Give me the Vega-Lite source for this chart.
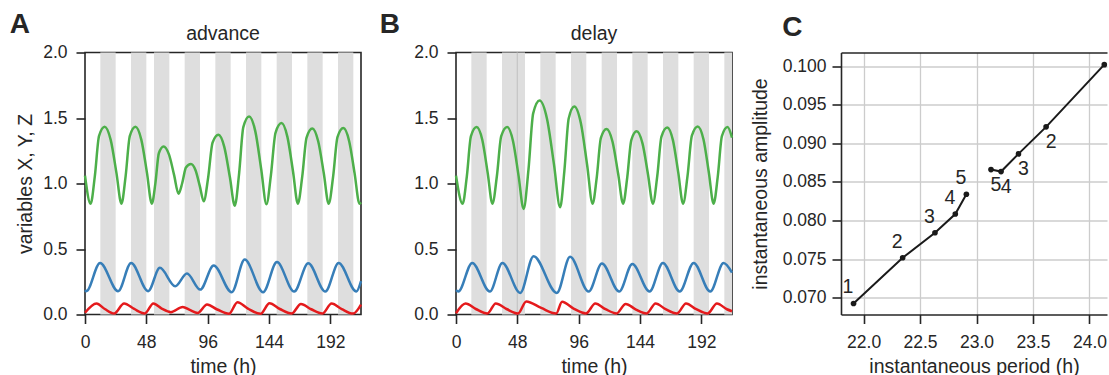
{
"$schema": "https://vega.github.io/schema/vega-lite/v6.json",
"padding": {"left": 9, "top": 10.5, "right": 0, "bottom": 0},
"config": {
 "font": "Liberation Sans",
 "view": {"stroke": "#262626", "strokeWidth": 1.6},
 "axis": {"domain": false, "grid": false, "tickColor": "#262626", "tickWidth": 1.6, "tickSize": 9, "labelFont": "Liberation Sans", "labelFontSize": 17.5, "labelColor": "#262626", "labelPadding": 6, "titleFont": "Liberation Sans", "titleFontSize": 19.5, "titleFontWeight": "normal", "titleColor": "#262626", "labelFlush": false},
 "title": {"font": "Liberation Sans", "fontSize": 19.5, "fontWeight": "normal", "color": "#262626"}
},
"datasets": {
 "bands": [
  {"panel":"advance","t":12,"t2":24},{"panel":"advance","t":36,"t2":48},{"panel":"advance","t":54,"t2":66},{"panel":"advance","t":78,"t2":90},{"panel":"advance","t":102,"t2":114},{"panel":"advance","t":126,"t2":138},{"panel":"advance","t":150,"t2":162},{"panel":"advance","t":174,"t2":186},{"panel":"advance","t":198,"t2":210},
  {"panel":"delay","t":12,"t2":24},{"panel":"delay","t":36,"t2":48},{"panel":"delay","t":48,"t2":54},{"panel":"delay","t":66,"t2":78},{"panel":"delay","t":90,"t2":102},{"panel":"delay","t":114,"t2":126},{"panel":"delay","t":138,"t2":150},{"panel":"delay","t":162,"t2":174},{"panel":"delay","t":186,"t2":198},{"panel":"delay","t":210,"t2":216}
 ],
 "seams": [{"panel":"delay","t":48}],
 "series": [
  {"panel":"advance","k":"X","t":0,"v":1.06},{"panel":"advance","k":"X","t":4.4,"v":0.846},{"panel":"advance","k":"X","t":7.7,"v":1.057},{"panel":"advance","k":"X","t":11,"v":1.363},{"panel":"advance","k":"X","t":15.4,"v":1.433},{"panel":"advance","k":"X","t":20.1,"v":1.333},{"panel":"advance","k":"X","t":24.6,"v":1.081},{"panel":"advance","k":"X","t":28.5,"v":0.846},{"panel":"advance","k":"X","t":31.8,"v":1.057},{"panel":"advance","k":"X","t":35.1,"v":1.363},{"panel":"advance","k":"X","t":39.5,"v":1.433},{"panel":"advance","k":"X","t":44.1,"v":1.333},{"panel":"advance","k":"X","t":48.5,"v":1.081},{"panel":"advance","k":"X","t":52.3,"v":0.846},{"panel":"advance","k":"X","t":55.1,"v":1.003},{"panel":"advance","k":"X","t":57.8,"v":1.231},{"panel":"advance","k":"X","t":61.5,"v":1.283},{"panel":"advance","k":"X","t":65.7,"v":1.222},{"panel":"advance","k":"X","t":69.7,"v":1.066},{"panel":"advance","k":"X","t":73.2,"v":0.922},{"panel":"advance","k":"X","t":76.1,"v":1.004},{"panel":"advance","k":"X","t":79,"v":1.122},{"panel":"advance","k":"X","t":82.9,"v":1.149},{"panel":"advance","k":"X","t":86.5,"v":1.101},{"panel":"advance","k":"X","t":89.9,"v":0.978},{"panel":"advance","k":"X","t":92.9,"v":0.864},{"panel":"advance","k":"X","t":96.4,"v":1.047},{"panel":"advance","k":"X","t":99.8,"v":1.311},{"panel":"advance","k":"X","t":104.4,"v":1.372},{"panel":"advance","k":"X","t":109,"v":1.28},{"panel":"advance","k":"X","t":113.4,"v":1.047},{"panel":"advance","k":"X","t":117.2,"v":0.831},{"panel":"advance","k":"X","t":120.6,"v":1.076},{"panel":"advance","k":"X","t":123.9,"v":1.43},{"panel":"advance","k":"X","t":128.4,"v":1.512},{"panel":"advance","k":"X","t":133.3,"v":1.398},{"panel":"advance","k":"X","t":137.9,"v":1.109},{"panel":"advance","k":"X","t":142,"v":0.841},{"panel":"advance","k":"X","t":145.5,"v":1.064},{"panel":"advance","k":"X","t":149.1,"v":1.387},{"panel":"advance","k":"X","t":153.8,"v":1.461},{"panel":"advance","k":"X","t":158.4,"v":1.356},{"panel":"advance","k":"X","t":162.8,"v":1.092},{"panel":"advance","k":"X","t":166.6,"v":0.846},{"panel":"advance","k":"X","t":170,"v":1.053},{"panel":"advance","k":"X","t":173.4,"v":1.351},{"panel":"advance","k":"X","t":177.9,"v":1.42},{"panel":"advance","k":"X","t":182.5,"v":1.322},{"panel":"advance","k":"X","t":186.9,"v":1.076},{"panel":"advance","k":"X","t":190.7,"v":0.846},{"panel":"advance","k":"X","t":194.2,"v":1.054},{"panel":"advance","k":"X","t":197.6,"v":1.354},{"panel":"advance","k":"X","t":202.2,"v":1.423},{"panel":"advance","k":"X","t":206.7,"v":1.325},{"panel":"advance","k":"X","t":211,"v":1.077},{"panel":"advance","k":"X","t":214.8,"v":0.846},{"panel":"advance","k":"X","t":216,"v":0.856},
  {"panel":"advance","k":"Y","t":0,"v":0.186},{"panel":"advance","k":"Y","t":1,"v":0.178},{"panel":"advance","k":"Y","t":11.8,"v":0.394},{"panel":"advance","k":"Y","t":25.9,"v":0.178},{"panel":"advance","k":"Y","t":36.1,"v":0.394},{"panel":"advance","k":"Y","t":49.4,"v":0.178},{"panel":"advance","k":"Y","t":58.6,"v":0.356},{"panel":"advance","k":"Y","t":70.6,"v":0.216},{"panel":"advance","k":"Y","t":79.8,"v":0.313},{"panel":"advance","k":"Y","t":90.2,"v":0.19},{"panel":"advance","k":"Y","t":100.7,"v":0.374},{"panel":"advance","k":"Y","t":114.8,"v":0.17},{"panel":"advance","k":"Y","t":125,"v":0.419},{"panel":"advance","k":"Y","t":139.4,"v":0.17},{"panel":"advance","k":"Y","t":150.2,"v":0.4},{"panel":"advance","k":"Y","t":163.7,"v":0.175},{"panel":"advance","k":"Y","t":174.7,"v":0.391},{"panel":"advance","k":"Y","t":188.1,"v":0.175},{"panel":"advance","k":"Y","t":198.5,"v":0.394},{"panel":"advance","k":"Y","t":212.4,"v":0.175},{"panel":"advance","k":"Y","t":216,"v":0.254},
  {"panel":"advance","k":"Z","t":0,"v":0.013},{"panel":"advance","k":"Z","t":9,"v":0.084},{"panel":"advance","k":"Z","t":15.5,"v":0.042},{"panel":"advance","k":"Z","t":22.8,"v":0.008},{"panel":"advance","k":"Z","t":30.6,"v":0.084},{"panel":"advance","k":"Z","t":38.5,"v":0.042},{"panel":"advance","k":"Z","t":46.8,"v":0.008},{"panel":"advance","k":"Z","t":53.5,"v":0.084},{"panel":"advance","k":"Z","t":60,"v":0.045},{"panel":"advance","k":"Z","t":67.2,"v":0.018},{"panel":"advance","k":"Z","t":76.5,"v":0.058},{"panel":"advance","k":"Z","t":82,"v":0.035},{"panel":"advance","k":"Z","t":88.2,"v":0.012},{"panel":"advance","k":"Z","t":95.5,"v":0.076},{"panel":"advance","k":"Z","t":103.5,"v":0.038},{"panel":"advance","k":"Z","t":112.7,"v":0.005},{"panel":"advance","k":"Z","t":119.3,"v":0.094},{"panel":"advance","k":"Z","t":127.5,"v":0.045},{"panel":"advance","k":"Z","t":137.3,"v":0.005},{"panel":"advance","k":"Z","t":144.4,"v":0.086},{"panel":"advance","k":"Z","t":152.5,"v":0.042},{"panel":"advance","k":"Z","t":161.7,"v":0.007},{"panel":"advance","k":"Z","t":169,"v":0.081},{"panel":"advance","k":"Z","t":177,"v":0.04},{"panel":"advance","k":"Z","t":185.7,"v":0.007},{"panel":"advance","k":"Z","t":193,"v":0.084},{"panel":"advance","k":"Z","t":201,"v":0.041},{"panel":"advance","k":"Z","t":209.8,"v":0.007},{"panel":"advance","k":"Z","t":216,"v":0.076},
  {"panel":"delay","k":"X","t":0,"v":1.06},{"panel":"delay","k":"X","t":5.2,"v":0.846},{"panel":"delay","k":"X","t":8.5,"v":1.057},{"panel":"delay","k":"X","t":11.7,"v":1.361},{"panel":"delay","k":"X","t":16.1,"v":1.431},{"panel":"delay","k":"X","t":20.6,"v":1.332},{"panel":"delay","k":"X","t":24.8,"v":1.08},{"panel":"delay","k":"X","t":28.5,"v":0.846},{"panel":"delay","k":"X","t":32,"v":1.057},{"panel":"delay","k":"X","t":35.4,"v":1.361},{"panel":"delay","k":"X","t":40,"v":1.431},{"panel":"delay","k":"X","t":44.6,"v":1.325},{"panel":"delay","k":"X","t":49,"v":1.056},{"panel":"delay","k":"X","t":52.9,"v":0.806},{"panel":"delay","k":"X","t":56.7,"v":1.104},{"panel":"delay","k":"X","t":60.4,"v":1.535},{"panel":"delay","k":"X","t":65.4,"v":1.634},{"panel":"delay","k":"X","t":71.2,"v":1.495},{"panel":"delay","k":"X","t":76.7,"v":1.144},{"panel":"delay","k":"X","t":81.5,"v":0.818},{"panel":"delay","k":"X","t":84.8,"v":1.095},{"panel":"delay","k":"X","t":88.2,"v":1.496},{"panel":"delay","k":"X","t":92.6,"v":1.588},{"panel":"delay","k":"X","t":97.7,"v":1.462},{"panel":"delay","k":"X","t":102.6,"v":1.143},{"panel":"delay","k":"X","t":106.9,"v":0.846},{"panel":"delay","k":"X","t":110.2,"v":1.051},{"panel":"delay","k":"X","t":113.4,"v":1.348},{"panel":"delay","k":"X","t":117.8,"v":1.416},{"panel":"delay","k":"X","t":122.5,"v":1.319},{"panel":"delay","k":"X","t":126.9,"v":1.074},{"panel":"delay","k":"X","t":130.8,"v":0.846},{"panel":"delay","k":"X","t":134,"v":1.045},{"panel":"delay","k":"X","t":137.2,"v":1.332},{"panel":"delay","k":"X","t":141.4,"v":1.398},{"panel":"delay","k":"X","t":146,"v":1.304},{"panel":"delay","k":"X","t":150.3,"v":1.067},{"panel":"delay","k":"X","t":154.1,"v":0.846},{"panel":"delay","k":"X","t":157.5,"v":1.056},{"panel":"delay","k":"X","t":160.8,"v":1.358},{"panel":"delay","k":"X","t":165.3,"v":1.428},{"panel":"delay","k":"X","t":169.8,"v":1.329},{"panel":"delay","k":"X","t":174,"v":1.079},{"panel":"delay","k":"X","t":177.7,"v":0.846},{"panel":"delay","k":"X","t":181.2,"v":1.058},{"panel":"delay","k":"X","t":184.6,"v":1.365},{"panel":"delay","k":"X","t":189.2,"v":1.436},{"panel":"delay","k":"X","t":193.7,"v":1.336},{"panel":"delay","k":"X","t":197.9,"v":1.082},{"panel":"delay","k":"X","t":201.6,"v":0.846},{"panel":"delay","k":"X","t":204.9,"v":1.057},{"panel":"delay","k":"X","t":208.1,"v":1.361},{"panel":"delay","k":"X","t":212.5,"v":1.431},{"panel":"delay","k":"X","t":216,"v":1.35},
  {"panel":"delay","k":"Y","t":0,"v":0.186},{"panel":"delay","k":"Y","t":1.8,"v":0.175},{"panel":"delay","k":"Y","t":12.7,"v":0.394},{"panel":"delay","k":"Y","t":26.5,"v":0.175},{"panel":"delay","k":"Y","t":36.3,"v":0.394},{"panel":"delay","k":"Y","t":50.3,"v":0.165},{"panel":"delay","k":"Y","t":60.7,"v":0.445},{"panel":"delay","k":"Y","t":78.9,"v":0.165},{"panel":"delay","k":"Y","t":89.3,"v":0.44},{"panel":"delay","k":"Y","t":103.8,"v":0.175},{"panel":"delay","k":"Y","t":114.2,"v":0.389},{"panel":"delay","k":"Y","t":127.7,"v":0.175},{"panel":"delay","k":"Y","t":138,"v":0.386},{"panel":"delay","k":"Y","t":151.5,"v":0.175},{"panel":"delay","k":"Y","t":161.9,"v":0.394},{"panel":"delay","k":"Y","t":175.1,"v":0.175},{"panel":"delay","k":"Y","t":186,"v":0.394},{"panel":"delay","k":"Y","t":199,"v":0.175},{"panel":"delay","k":"Y","t":209.4,"v":0.394},{"panel":"delay","k":"Y","t":216,"v":0.32},
  {"panel":"delay","k":"Z","t":0,"v":0.01},{"panel":"delay","k":"Z","t":7.5,"v":0.084},{"panel":"delay","k":"Z","t":15.5,"v":0.042},{"panel":"delay","k":"Z","t":24.6,"v":0.008},{"panel":"delay","k":"Z","t":31.1,"v":0.084},{"panel":"delay","k":"Z","t":39.5,"v":0.042},{"panel":"delay","k":"Z","t":48.5,"v":0.008},{"panel":"delay","k":"Z","t":55,"v":0.1},{"panel":"delay","k":"Z","t":66.7,"v":0.05},{"panel":"delay","k":"Z","t":78.4,"v":0.008},{"panel":"delay","k":"Z","t":83,"v":0.097},{"panel":"delay","k":"Z","t":92,"v":0.045},{"panel":"delay","k":"Z","t":101.7,"v":0.008},{"panel":"delay","k":"Z","t":109,"v":0.084},{"panel":"delay","k":"Z","t":117,"v":0.041},{"panel":"delay","k":"Z","t":125.6,"v":0.008},{"panel":"delay","k":"Z","t":132.8,"v":0.081},{"panel":"delay","k":"Z","t":140.5,"v":0.04},{"panel":"delay","k":"Z","t":149.2,"v":0.008},{"panel":"delay","k":"Z","t":156.2,"v":0.084},{"panel":"delay","k":"Z","t":164,"v":0.041},{"panel":"delay","k":"Z","t":173,"v":0.008},{"panel":"delay","k":"Z","t":180,"v":0.084},{"panel":"delay","k":"Z","t":188,"v":0.041},{"panel":"delay","k":"Z","t":196.9,"v":0.008},{"panel":"delay","k":"Z","t":204.2,"v":0.084},{"panel":"delay","k":"Z","t":212,"v":0.04},{"panel":"delay","k":"Z","t":216,"v":0.025}
 ],
 "pc": [
  {"s":"advance","idx":1,"p":21.911,"a":0.06923,"label":"1"},
  {"s":"advance","idx":2,"p":22.346,"a":0.07516,"label":"2"},
  {"s":"advance","idx":3,"p":22.632,"a":0.07841,"label":"3"},
  {"s":"advance","idx":4,"p":22.812,"a":0.08084,"label":"4"},
  {"s":"advance","idx":5,"p":22.91,"a":0.0834,"label":"5"},
  {"s":"delay","idx":1,"p":24.131,"a":0.10022,"label":null},
  {"s":"delay","idx":2,"p":23.616,"a":0.09215,"label":"2"},
  {"s":"delay","idx":3,"p":23.371,"a":0.08864,"label":"3"},
  {"s":"delay","idx":4,"p":23.217,"a":0.08635,"label":"4"},
  {"s":"delay","idx":5,"p":23.128,"a":0.08661,"label":"5"}
 ]
},
"spacing": 12,
"hconcat": [
 {
  "title": {"text": "A", "anchor": "start", "frame": "bounds", "fontSize": 28, "fontWeight": "bold", "dx": -5, "offset": -38, "baseline": "alphabetic"},
  "vconcat": [{
   "width": 276, "height": 262,
   "title": {"text": "advance", "offset": -16, "baseline": "alphabetic"},
   "encoding": {"x": {"field": "t", "type": "quantitative", "scale": {"domain": [0, 216], "nice": false, "zero": false}, "axis": {"values": [0, 48, 96, 144, 192], "labelPadding": 9.5, "titlePadding": 7}, "title": "time (h)"}},
   "layer": [
    {"data": {"name": "bands"}, "transform": [{"filter": "datum.panel === 'advance'"}], "mark": {"type": "rect", "color": "#dedede"}, "encoding": {"x2": {"field": "t2"}}},
    {"data": {"name": "series"}, "transform": [{"filter": "datum.panel === 'advance'"}], "mark": {"type": "line", "interpolate": "monotone", "strokeWidth": 2.5},
     "encoding": {"y": {"field": "v", "type": "quantitative", "scale": {"domain": [0, 2], "nice": false}, "axis": {"values": [0, 0.5, 1, 1.5, 2], "format": ".1f", "labelPadding": 9, "titlePadding": 7}, "title": "variables X, Y, Z"},
      "color": {"field": "k", "type": "nominal", "scale": {"domain": ["X", "Y", "Z"], "range": ["#4daf4a", "#377eb8", "#e41a1c"]}, "legend": null}}}
   ]
  }]
 },
 {
  "title": {"text": "B", "anchor": "start", "frame": "bounds", "fontSize": 28, "fontWeight": "bold", "dx": -33, "offset": -38, "baseline": "alphabetic"},
  "vconcat": [{
   "width": 276, "height": 262,
   "title": {"text": "delay", "offset": -16, "baseline": "alphabetic"},
   "encoding": {"x": {"field": "t", "type": "quantitative", "scale": {"domain": [0, 216], "nice": false, "zero": false}, "axis": {"values": [0, 48, 96, 144, 192], "labelPadding": 9.5, "titlePadding": 7}, "title": "time (h)"}},
   "layer": [
    {"data": {"name": "bands"}, "transform": [{"filter": "datum.panel === 'delay'"}], "mark": {"type": "rect", "color": "#dedede"}, "encoding": {"x2": {"field": "t2"}}},
    {"data": {"name": "seams"}, "transform": [{"filter": "datum.panel === 'delay'"}], "mark": {"type": "rule", "color": "#c6c6c6", "strokeWidth": 1.3}, "encoding": {}},
    {"data": {"name": "series"}, "transform": [{"filter": "datum.panel === 'delay'"}], "mark": {"type": "line", "interpolate": "monotone", "strokeWidth": 2.5},
     "encoding": {"y": {"field": "v", "type": "quantitative", "scale": {"domain": [0, 2], "nice": false}, "axis": {"values": [0, 0.5, 1, 1.5, 2], "format": ".1f", "labelPadding": 9}, "title": null},
      "color": {"field": "k", "type": "nominal", "scale": {"domain": ["X", "Y", "Z"], "range": ["#4daf4a", "#377eb8", "#e41a1c"]}, "legend": null}}}
   ]
  }]
 },
 {
  "title": {"text": "C", "anchor": "start", "frame": "bounds", "fontSize": 28, "fontWeight": "bold", "dx": 32, "offset": -11, "baseline": "alphabetic"},
  "vconcat": [{
   "width": 266, "height": 262,
   "view": {"stroke": null},
   "data": {"name": "pc"},
   "encoding": {
    "y": {"field": "a", "type": "quantitative", "scale": {"domain": [0.0678, 0.1018], "nice": false, "zero": false}, "axis": {"values": [0.07, 0.075, 0.08, 0.085, 0.09, 0.095, 0.1], "format": ".3f", "grid": true, "gridColor": "#cccccc", "gridWidth": 1.3, "domain": true, "domainColor": "#262626", "domainWidth": 1.6, "labelPadding": 6, "titlePadding": 12}, "title": "instantaneous amplitude"}
   },
   "layer": [
    {"mark": {"type": "line", "color": "#1a1a1a", "strokeWidth": 2},
     "encoding": {
      "x": {"field": "p", "type": "quantitative", "scale": {"domain": [21.8, 24.155], "nice": false, "zero": false}, "axis": {"orient": "bottom", "values": [22, 22.5, 23, 23.5, 24], "format": ".1f", "grid": true, "gridColor": "#cccccc", "gridWidth": 1.3, "domain": true, "domainColor": "#262626", "domainWidth": 1.6, "labelPadding": 9.5, "titlePadding": 7}, "title": "instantaneous period (h)"},
      "detail": {"field": "s"}, "order": {"field": "idx", "type": "quantitative"}}},
    {"mark": {"type": "point", "filled": true, "color": "#1a1a1a", "size": 32, "opacity": 1},
     "encoding": {
      "x": {"field": "p", "type": "quantitative", "axis": {"orient": "top", "labels": false, "ticks": false, "grid": false, "domain": true, "domainColor": "#262626", "domainWidth": 1.6, "title": null}}}},
    {"transform": [{"filter": "datum.s === 'advance' && datum.label != null"}], "mark": {"type": "text", "fontSize": 19.5, "color": "#262626", "dx": -5.5, "dy": -16, "baseline": "middle", "align": "center"},
     "encoding": {"x": {"field": "p", "type": "quantitative", "axis": null}, "text": {"field": "label"}}},
    {"transform": [{"filter": "datum.s === 'delay' && datum.label != null"}], "mark": {"type": "text", "fontSize": 19.5, "color": "#262626", "dx": 5, "dy": 15, "baseline": "middle", "align": "center"},
     "encoding": {"x": {"field": "p", "type": "quantitative", "axis": null}, "text": {"field": "label"}}}
   ],
   "resolve": {"axis": {"x": "independent"}}
  }]
 }
]
}
